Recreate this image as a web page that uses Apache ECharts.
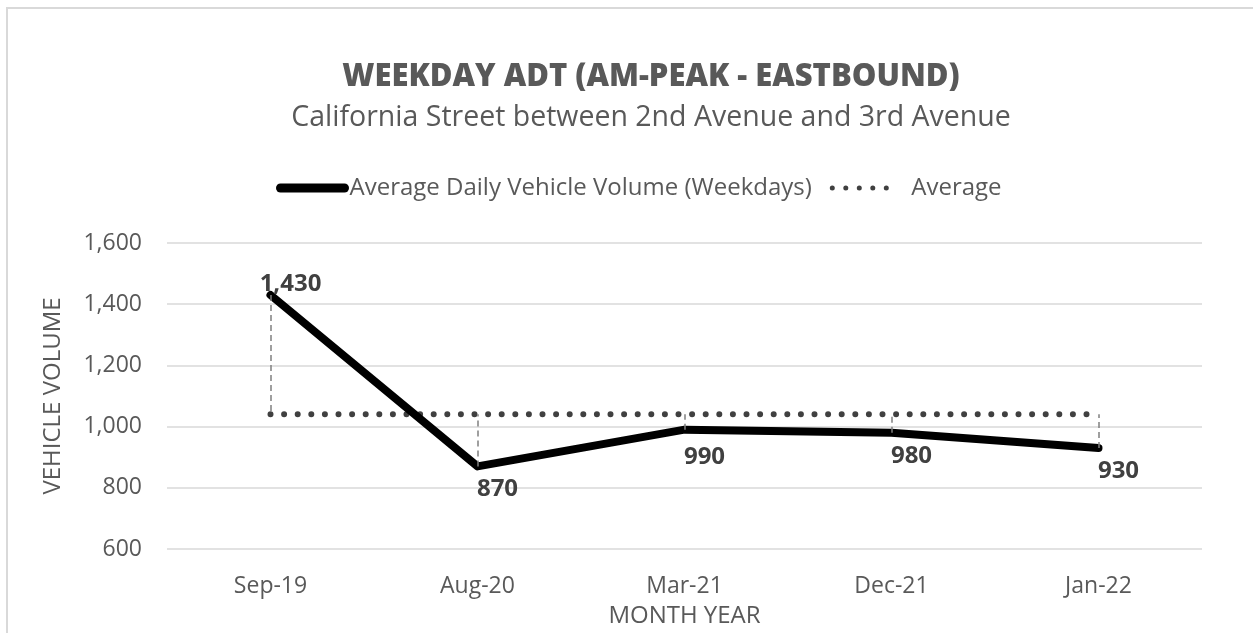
<!DOCTYPE html>
<html>
<head>
<meta charset="utf-8">
<script src="https://cdn.jsdelivr.net/npm/echarts@6/dist/echarts.min.js"></script>
<style>
  html, body { margin: 0; padding: 0; background: #fff; }
  #chart { width: 1253px; height: 633px; }
</style>
</head>
<body>
<div id="chart"></div>
<script>
  // chart values
  const months = ['Sep-19', 'Aug-20', 'Mar-21', 'Dec-21', 'Jan-22']
  const volume = [1430, 870, 990, 980, 930]
  const average = [1040, 1040, 1040, 1040, 1040]

  // label placement per point (style only)
  const labelPos = ['top', 'bottom', 'bottom', 'bottom', 'bottom']
  const labelGap = [-2, 10, 15, 11, 11]

  const font = '"Open Sans", "Noto Sans", sans-serif'
  const grey = '#595959'

  // dashed drop lines between the two series
  let dropLines = []
  for (let i = 0; i < months.length; i++) {
    dropLines.push([
      { coord: [months[i], volume[i]] },
      { coord: [months[i], average[i]] }
    ])
  }

  let myChart = echarts.init(document.getElementById('chart'))
  myChart.setOption({
    animation: false,
    textStyle: { fontFamily: font },
    graphic: [{
      type: 'rect',
      shape: { x: 7, y: 8, width: 1400, height: 800 },
      style: { fill: 'none', stroke: '#d9d9d9', lineWidth: 2 },
      silent: true
    }],
    title: {
      text: 'WEEKDAY ADT (AM-PEAK - EASTBOUND)',
      subtext: 'California Street between 2nd Avenue and 3rd Avenue',
      left: 646,
      textAlign: 'center',
      top: 57,
      itemGap: 10,
      textStyle: { fontFamily: font, fontSize: 31, fontWeight: 800, color: grey },
      subtextStyle: { fontFamily: font, fontSize: 28.5, color: grey }
    },
    legend: {
      top: 176,
      left: 276,
      padding: 0,
      itemWidth: 64,
      itemHeight: 14,
      itemGap: 18,
      itemStyle: { opacity: 0 },
      textStyle: { fontFamily: font, fontSize: 24, color: grey },
      data: [
        { name: 'Average Daily Vehicle Volume (Weekdays)', lineStyle: { width: 9, cap: 'round' } },
        {
          name: 'Average',
          lineStyle: { width: 5, type: [0, 13.5], cap: 'round' },
          textStyle: { padding: [0, 0, 0, 10] }
        }
      ]
    },
    grid: {
      left: 167,
      right: 51,
      top: 243,
      bottom: 84
    },
    xAxis: {
      type: 'category',
      data: months,
      name: 'MONTH YEAR',
      nameLocation: 'middle',
      nameGap: 55,
      nameTextStyle: { fontFamily: font, fontSize: 24, color: grey },
      axisLine: { show: false },
      axisTick: { show: false },
      axisLabel: { fontFamily: font, fontSize: 23, color: grey, margin: 26 }
    },
    yAxis: {
      type: 'value',
      min: 600,
      max: 1600,
      interval: 200,
      name: 'VEHICLE VOLUME',
      nameLocation: 'middle',
      nameGap: 102,
      nameTextStyle: { fontFamily: font, fontSize: 24, color: grey },
      axisLine: { show: false },
      axisTick: { show: false },
      axisLabel: {
        fontFamily: font, fontSize: 23, color: grey, margin: 25,
        formatter: function (v) { return v.toLocaleString('en-US') }
      },
      splitLine: { lineStyle: { color: '#d9d9d9', width: 1.5 } }
    },
    series: [
      {
        name: 'Average Daily Vehicle Volume (Weekdays)',
        type: 'line',
        data: volume.map((v, i) => ({
          value: v,
          label: { position: labelPos[i], distance: labelGap[i] }
        })),
        symbol: 'circle',
        symbolSize: 1,
        showSymbol: true,
        itemStyle: { color: '#000' },
        lineStyle: { color: '#000', width: 8, cap: 'round', join: 'round' },
        z: 3,
        label: {
          show: true,
          fontFamily: font,
          fontSize: 24,
          fontWeight: 'bold',
          color: '#404040',
          offset: [20, 0],
          formatter: function (p) { return p.value.toLocaleString('en-US') }
        }
      },
      {
        name: 'Average',
        type: 'line',
        data: average,
        symbol: 'none',
        itemStyle: { color: '#404040' },
        lineStyle: { color: '#404040', width: 6, type: [0, 13.6], cap: 'round' },
        z: 2,
        markLine: {
          silent: true,
          symbol: 'none',
          label: { show: false },
          lineStyle: { color: '#808080', width: 1.5, type: [6, 4] },
          data: dropLines
        }
      }
    ]
  })
</script>
</body>
</html>
